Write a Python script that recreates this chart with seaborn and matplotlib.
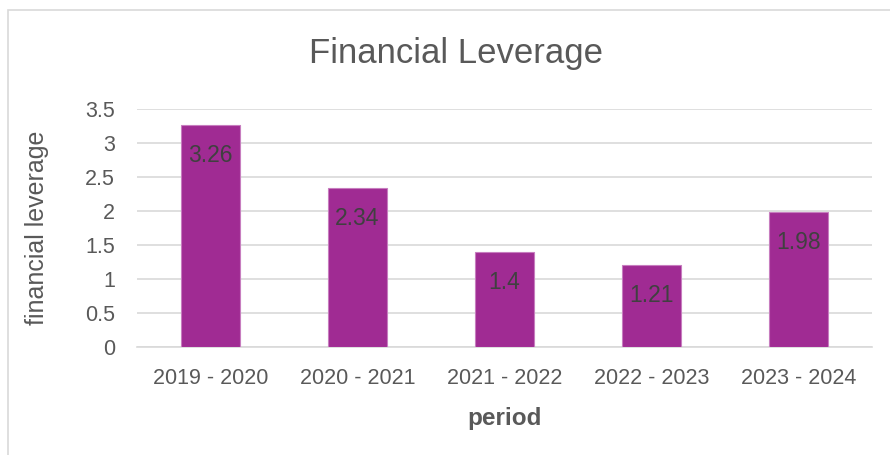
import matplotlib
matplotlib.use("Agg")
import matplotlib.pyplot as plt
import matplotlib.patches as mpatches
import seaborn as sns
import pandas as pd

periods = ["2019 - 2020", "2020 - 2021", "2021 - 2022", "2022 - 2023", "2023 - 2024"]
leverage = [3.26, 2.34, 1.4, 1.21, 1.98]
label_text = ["3.26", "2.34", "1.4", "1.21", "1.98"]

df = pd.DataFrame({"period": periods, "leverage": leverage})

sns.set_theme(style="white")
plt.rcParams["font.family"] = ["Liberation Sans", "DejaVu Sans"]

fig = plt.figure(figsize=(8.9, 4.55), dpi=100)
ax = fig.add_axes([137 / 890, 1 - 347 / 455, (872 - 137) / 890, (347 - 109) / 455])

sns.barplot(data=df, x="period", y="leverage", color="#A02B93", saturation=1,
            width=0.4, edgecolor="#C77DBF", linewidth=0.8, ax=ax, zorder=3)

ax.set_ylim(0, 3.5)
ax.set_xlim(-0.5, 4.5)
ax.set_yticks([0, 0.5, 1, 1.5, 2, 2.5, 3, 3.5])
ax.set_yticklabels(["0", "0.5", "1", "1.5", "2", "2.5", "3", "3.5"])
ax.yaxis.grid(True, color="#D9D9D9", linewidth=1.2, zorder=0)
ax.set_axisbelow(True)
for s in ["top", "right", "left"]:
    ax.spines[s].set_visible(False)
ax.spines["bottom"].set_color("#D9D9D9")
ax.spines["bottom"].set_linewidth(1.2)
ax.tick_params(axis="both", length=0, labelsize=15.5, labelcolor="#595959")
ax.tick_params(axis="x", pad=15)
ax.tick_params(axis="y", pad=16)

for i, v in enumerate(leverage):
    ax.annotate(label_text[i], (i, v), xytext=(0, -22), textcoords="offset points",
                ha="center", va="center", fontsize=16.5, color="#404040", zorder=4)

ax.set_ylabel("financial leverage", fontsize=18, color="#595959", labelpad=26)
ax.set_xlabel("period", fontsize=17.5, color="#595959", fontweight="bold", labelpad=13)

fig.text(456 / 890, 1 - 53 / 455, "Financial Leverage", ha="center", va="center",
         fontsize=25, color="#595959")

border = mpatches.Rectangle((8 / 890, -0.1), 1.1, 1.1 - 10 / 455, transform=fig.transFigure,
                            fill=False, edgecolor="#D9D9D9", linewidth=1.2)
fig.patches.append(border)

fig.savefig("out.png", dpi=100)
